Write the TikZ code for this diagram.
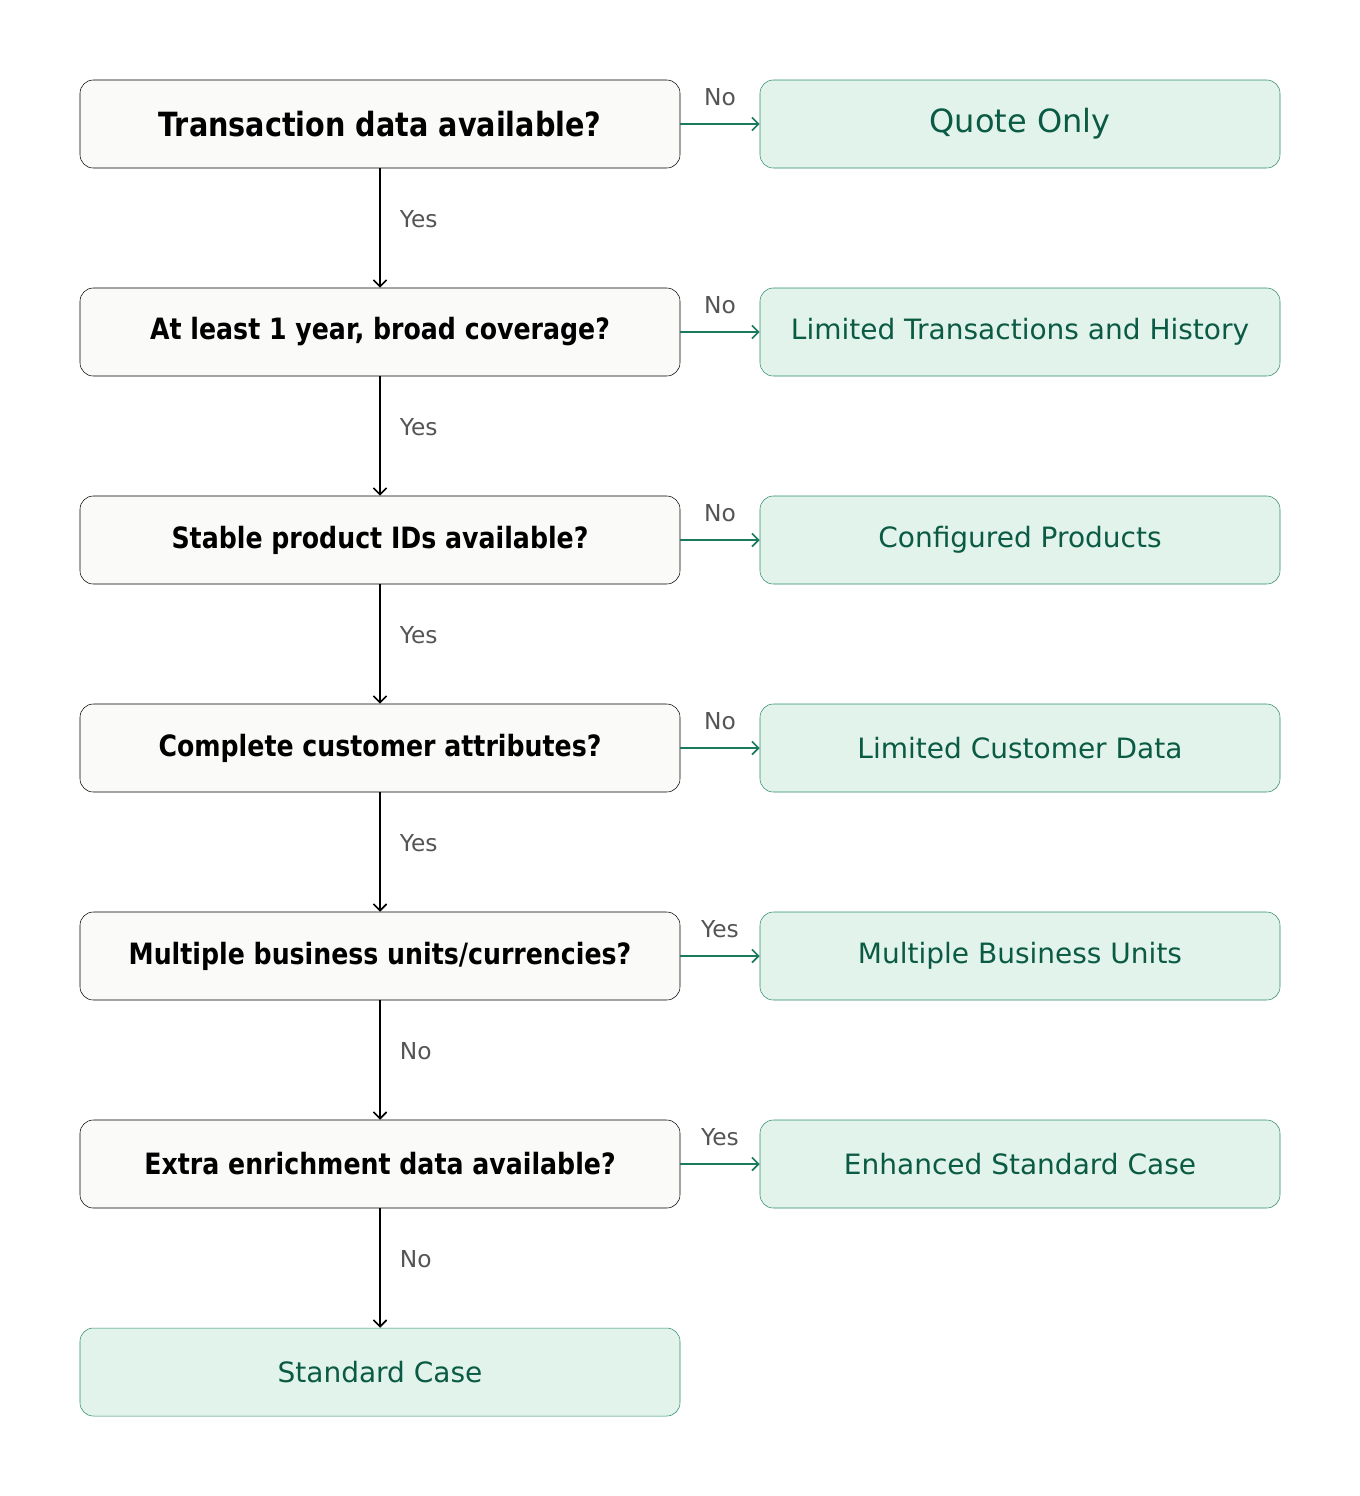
\documentclass[tikz,border=0pt]{standalone}
\usepackage{fontspec}
\setmainfont{DejaVu Sans}
\newfontfamily\qfont{DejaVu Sans Bold}[FakeStretch=0.86]
\usetikzlibrary{arrows.meta}
\definecolor{gfill}{HTML}{E1F3EB}
\definecolor{gdraw}{HTML}{2E8B6A}
\definecolor{gtext}{HTML}{0B5A44}
\definecolor{garrow}{HTML}{1E7A5C}
\definecolor{qfill}{HTML}{FAFAF8}
\definecolor{lbl}{HTML}{555555}
\begin{document}
\begin{tikzpicture}[x=0.75pt,y=-0.75pt,
 q/.style={draw=black,fill=qfill,rounded corners=10pt,minimum width=450pt,minimum height=66pt,font=\qfont\fontsize{22}{25}\selectfont,inner sep=0pt},
 r/.style={draw=gdraw,fill=gfill,rounded corners=10pt,minimum width=390pt,minimum height=66pt,text=gtext,font=\fontsize{21}{24}\selectfont,inner sep=0pt},
 down/.style={-{Straight Barb[length=5pt]},line width=1.2pt},
 side/.style={-{Straight Barb[length=5pt]},line width=1.2pt,draw=garrow},
 l/.style={text=lbl,font=\fontsize{17.5}{20}\selectfont},
 vl/.style={l,right=11pt,yshift=7pt}]
\useasboundingbox (0,0) rectangle (1360,1496);
\node[q,font=\qfont\fontsize{25}{28}\selectfont] (q1) at (380,124) {Transaction data available?};
\node[q] (q2) at (380,332) {At least 1 year, broad coverage?};
\node[q] (q3) at (380,540) {Stable product IDs available?};
\node[q] (q4) at (380,748) {Complete customer attributes?};
\node[q] (q5) at (380,956) {Multiple business units/currencies?};
\node[q] (q6) at (380,1164) {Extra enrichment data available?};
\node[r,minimum width=450pt] (s) at (380,1372) {Standard Case};
\node[r,font=\fontsize{24}{28}\selectfont] (r1) at (1020,124) {Quote Only};
\node[r] (r2) at (1020,332) {Limited Transactions and History};
\node[r] (r3) at (1020,540) {Configured Products};
\node[r] (r4) at (1020,748) {Limited Customer Data};
\node[r] (r5) at (1020,956) {Multiple Business Units};
\node[r] (r6) at (1020,1164) {Enhanced Standard Case};
\draw[down] (q1) -- node[vl]{Yes} (q2);
\draw[down] (q2) -- node[vl]{Yes} (q3);
\draw[down] (q3) -- node[vl]{Yes} (q4);
\draw[down] (q4) -- node[vl]{Yes} (q5);
\draw[down] (q5) -- node[vl]{No} (q6);
\draw[down] (q6) -- node[vl]{No} (s);
\draw[side] (q1) -- node[l,above=10pt]{No} (r1);
\draw[side] (q2) -- node[l,above=10pt]{No} (r2);
\draw[side] (q3) -- node[l,above=10pt]{No} (r3);
\draw[side] (q4) -- node[l,above=10pt]{No} (r4);
\draw[side] (q5) -- node[l,above=10pt]{Yes} (r5);
\draw[side] (q6) -- node[l,above=10pt]{Yes} (r6);
\end{tikzpicture}
\end{document}
